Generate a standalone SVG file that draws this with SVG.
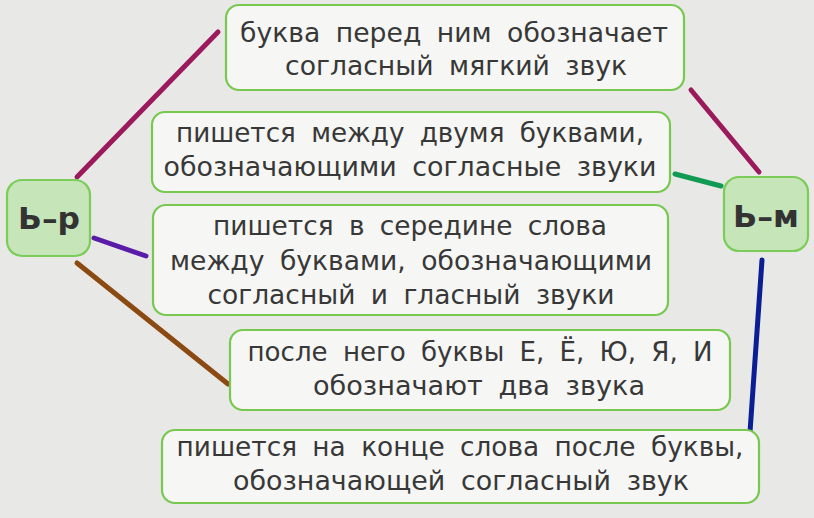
<svg xmlns="http://www.w3.org/2000/svg" width="814" height="518" viewBox="0 0 814 518">
  <style>
    .bg { fill: #e8e8e6; }
    .box { fill: #f6f6f4; stroke: #78c850; stroke-width: 2.2; }
    .key { fill: #c6e5b8; stroke: #7ccc5a; stroke-width: 2.2; }
    .t { font-family: "DejaVu Sans", "Liberation Sans", sans-serif; font-size: 26.5px; fill: #383838; text-anchor: middle; word-spacing: 7px; }
    .k { font-family: "DejaVu Sans", "Liberation Sans", sans-serif; font-weight: bold; font-size: 31px; fill: #333333; text-anchor: middle; }
    .c { fill: none; stroke-width: 5; stroke-linecap: round; }
  </style>
  <rect class="bg" x="0" y="0" width="814" height="518"/>

  <g id="connectors">
    <line class="c" x1="77" y1="177" x2="218" y2="32" stroke="#9b1a5c"/>
    <line class="c" x1="759" y1="172" x2="691" y2="90" stroke="#9b1a5c"/>
    <line class="c" x1="675" y1="174" x2="721" y2="186" stroke="#119a52"/>
    <line class="c" x1="94" y1="238" x2="146" y2="256" stroke="#5a1ca8"/>
    <line class="c" x1="77" y1="263" x2="228" y2="384" stroke="#8b4a12"/>
    <line class="c" x1="762" y1="260" x2="750" y2="432" stroke="#0b1e94"/>
  </g>

  <g id="node-br">
    <rect class="key" x="7" y="180" width="83" height="76" rx="15"/>
    <text class="k" x="49" y="229" textLength="62" lengthAdjust="spacingAndGlyphs">Ь–р</text>
  </g>
  <g id="node-bm">
    <rect class="key" x="724" y="177" width="84" height="74" rx="15"/>
    <text class="k" x="766" y="227" textLength="66" lengthAdjust="spacingAndGlyphs">Ь–м</text>
  </g>

  <g id="box1">
    <rect class="box" x="226" y="5" width="458" height="85" rx="13"/>
    <text class="t" x="454" y="42" textLength="428" lengthAdjust="spacingAndGlyphs">буква перед ним обозначает</text>
    <text class="t" x="456" y="75" textLength="342" lengthAdjust="spacingAndGlyphs">согласный мягкий звук</text>
  </g>
  <g id="box2">
    <rect class="box" x="152" y="112" width="518" height="80" rx="13"/>
    <text class="t" x="410" y="142" textLength="468" lengthAdjust="spacingAndGlyphs">пишется между двумя буквами,</text>
    <text class="t" x="410" y="176" textLength="493" lengthAdjust="spacingAndGlyphs">обозначающими согласные звуки</text>
  </g>
  <g id="box3">
    <rect class="box" x="153" y="205" width="515" height="110" rx="13"/>
    <text class="t" x="410" y="235" textLength="394" lengthAdjust="spacingAndGlyphs">пишется в середине слова</text>
    <text class="t" x="411" y="270" textLength="482" lengthAdjust="spacingAndGlyphs">между буквами, обозначающими</text>
    <text class="t" x="411" y="304" textLength="407" lengthAdjust="spacingAndGlyphs">согласный и гласный звуки</text>
  </g>
  <g id="box4">
    <rect class="box" x="230" y="330" width="500" height="80" rx="13"/>
    <text class="t" x="480" y="361" textLength="465" lengthAdjust="spacingAndGlyphs">после него буквы Е, Ё, Ю, Я, И</text>
    <text class="t" x="479" y="395" textLength="332" lengthAdjust="spacingAndGlyphs">обозначают два звука</text>
  </g>
  <g id="box5">
    <rect class="box" x="162" y="430" width="597" height="73" rx="13"/>
    <text class="t" x="460" y="456" textLength="567" lengthAdjust="spacingAndGlyphs">пишется на конце слова после буквы,</text>
    <text class="t" x="461" y="490" textLength="456" lengthAdjust="spacingAndGlyphs">обозначающей согласный звук</text>
  </g>
</svg>
